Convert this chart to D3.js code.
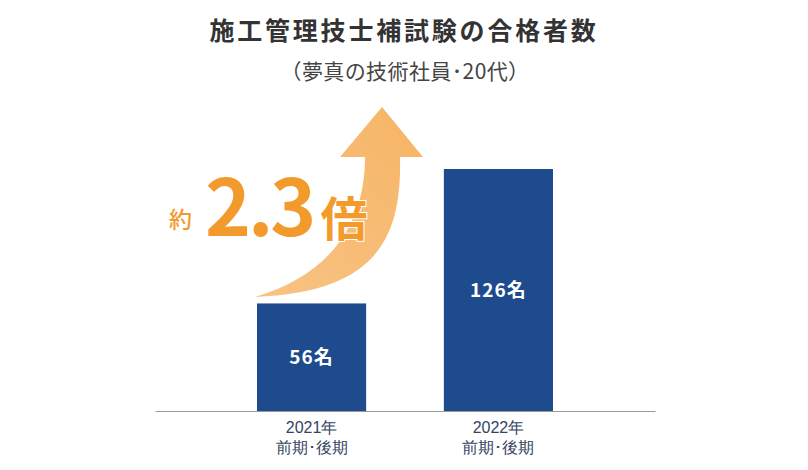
<!DOCTYPE html>
<html><head><meta charset="utf-8">
<script src="https://cdn.jsdelivr.net/npm/d3@7"></script>
<style>
html,body{margin:0;padding:0;background:#fff;}
svg{display:block;font-family:"Noto Sans CJK JP","Noto Sans",sans-serif;}
</style></head>
<body>
<script>
const title = "施工管理技士補試験の合格者数";
const subtitle = "（夢真の技術社員･20代）";
const categories = ["2021年\n前期･後期", "2022年\n前期･後期"];
const values = [56, 126];
const unit = "名";
const ratioLabel = ["約", "2.3", "倍"];

const W = 808, H = 470;
const svg = d3.select("body").append("svg").attr("width", W).attr("height", H);

const x = d3.scaleBand().domain(categories).range([155, 655]).paddingInner(0.416).paddingOuter(0.546);
const y = d3.scaleLinear().domain([0, 126]).range([411, 169]);

// title
svg.append("text").attr("x", 404).attr("y", 40).attr("text-anchor", "middle")
  .attr("font-size", 25).attr("font-weight", 700).attr("fill", "#333")
  .attr("letter-spacing", 2.8).text(title);
svg.append("text").attr("x", 405).attr("y", 79).attr("text-anchor", "middle")
  .attr("font-size", 21).attr("fill", "#444").attr("letter-spacing", 0.4).text(subtitle);

// arrow
const defs = svg.append("defs");
const g = defs.append("linearGradient").attr("id", "ag").attr("x1", 0).attr("y1", 1).attr("x2", 1).attr("y2", 0);
g.append("stop").attr("offset", 0).attr("stop-color", "#f8c384");
g.append("stop").attr("offset", 1).attr("stop-color", "#f6b566");
svg.append("path")
  .attr("d", "M255,297 C322,277 365,232 365,157 L340,157 L382,107 L423,157 L400,157 C402,240 375,292 255,297 Z")
  .attr("fill", "url(#ag)");

// ratio text
const rt = svg.append("text").attr("y", 236).attr("fill", "#f39a2d")
  .attr("stroke", "#fff").attr("stroke-width", 2).attr("paint-order", "stroke");
rt.append("tspan").attr("x", 169).attr("font-size", 23).attr("font-weight", 500).attr("dy", -8).text(ratioLabel[0]);
rt.append("tspan").attr("x", 205).attr("dy", 8).attr("font-size", 78).attr("font-weight", 700).attr("letter-spacing", -3).text(ratioLabel[1]);
rt.append("tspan").attr("dx", 7).attr("font-size", 47).attr("font-weight", 700).text(ratioLabel[2]);

// bars
svg.selectAll("rect.bar").data(values).enter().append("rect").attr("class", "bar")
  .attr("x", (d, i) => x(categories[i])).attr("width", x.bandwidth())
  .attr("y", d => y(d)).attr("height", d => y(0) - y(d)).attr("fill", "#1d4b8d");

svg.selectAll("text.val").data(values).enter().append("text").attr("class", "val")
  .attr("x", (d, i) => x(categories[i]) + x.bandwidth() / 2)
  .attr("y", d => (y(d) + y(0)) / 2 + 7)
  .attr("text-anchor", "middle").attr("fill", "#fff").attr("font-size", 19).attr("font-weight", 700)
  .attr("letter-spacing", 1).text(d => d + unit);

// axis
const axis = d3.axisBottom(x).tickSize(0).tickFormat("");
const ax = svg.append("g").attr("transform", `translate(0,${y(0)})`).call(axis);
ax.select(".domain").attr("stroke", "#9a9a9a").attr("stroke-width", 1.2);
ax.selectAll(".tick").each(function(d) {
  const t = d3.select(this).append("text").attr("fill", "#34445f").attr("font-size", 16)
    .attr("text-anchor", "middle");
  d.split("\n").forEach((line, i) => {
    t.append("tspan").attr("x", 0).attr("y", 22 + i * 20).text(line);
  });
});
</script>
</body></html>
